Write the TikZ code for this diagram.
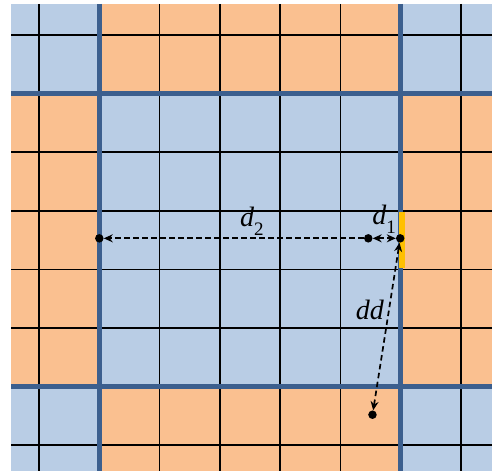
\documentclass[tikz,border=0pt]{standalone}
\usepackage{fontspec}
\setmainfont{Liberation Serif}
\usepackage{tikz}
\usetikzlibrary{arrows.meta}
\definecolor{tileblue}{HTML}{B9CDE5}
\definecolor{tileorange}{HTML}{FAC090}
\definecolor{blockblue}{HTML}{3C5F8E}
\definecolor{edgeyellow}{HTML}{FFC000}
\newcommand{\lowidx}[1]{\raisebox{-9pt}{\fontsize{19}{19}\selectfont\upshape #1}}

\begin{document}
\begin{tikzpicture}[
        x=60.3pt, y=-58.6pt,
        font=\fontsize{28}{30}\selectfont\itshape,
        % thin grid lines and thick block borders
        gridline/.style={draw=black, line width=1.6pt},
        blockline/.style={draw=blockblue, line width=4.8pt},
        dot/.style={circle, fill=black, inner sep=0pt, minimum size=8.5pt},
        dist/.style={dashed, line width=1.7pt, dash pattern=on 5.5pt off 3.5pt,
                     -{Stealth[length=9pt, width=8pt, inset=3pt]}},
        twodist/.style={dist, {Stealth[length=9pt, width=8pt, inset=3pt]}-{Stealth[length=9pt, width=8pt, inset=3pt]}}
    ]
        \useasboundingbox (-0.647,-0.597) rectangle (7.512,7.474);

        % tiles
        \fill[tileblue]   (-0.464,-0.53) rectangle (7.512,7.44);
        \fill[tileorange] (1,-0.53)      rectangle (6,1);
        \fill[tileorange] (-0.464,1)     rectangle (1,6);
        \fill[tileorange] (6,1)          rectangle (7.512,6);
        \fill[tileorange] (1,6)          rectangle (6,7.44);

        \foreach \i in {0,2,3,4,5,7} {
            \draw[gridline] (\i,-0.53) -- (\i,7.44);
            \draw[gridline] (-0.464,\i) -- (7.512,\i);
        }
        \foreach \i in {1,6} {
            \draw[blockline] (\i,-0.53) -- (\i,7.44);
            \draw[blockline] (-0.464,\i) -- (7.512,\i);
        }
        \draw[edgeyellow, line width=6.3pt] ([xshift=1.2pt]6,3.02) -- ([xshift=1.2pt]6,3.98);

        \node[dot] (edge)   at (5.99,3.47) {};
        \node[dot] (near)   at (5.46,3.47) {};
        \node[dot] (far)    at (1,3.47)    {};
        \node[dot] (below)  at (5.53,6.48) {};

        \draw[dist]    (near)  -- (far)  node[pos=0.43, above=-1pt] {d\lowidx{2}};
        \draw[twodist] (near)  -- (edge) node[midway, above=1pt] {d\lowidx{1}};
        \draw[twodist] (below) -- (edge) node[pos=0.6, left=1pt] {dd};
    \end{tikzpicture}
\end{document}
